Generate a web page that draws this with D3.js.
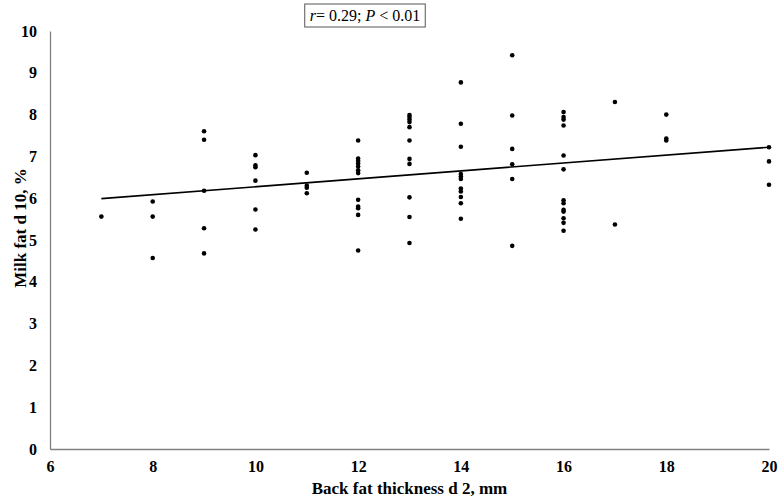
<!DOCTYPE html>
<html>
<head>
<meta charset="utf-8">
<script src="https://cdn.jsdelivr.net/npm/d3@7"></script>
<style>
  body { margin: 0; background: #fff; }
  text { font-family: "Liberation Serif", "Times New Roman", serif; }
</style>
</head>
<body>
<div id="chart"></div>
<script>
// back fat thickness (mm) per column, and milk fat values for each
var backFat = [7, 8, 9, 10, 11, 12, 13, 14, 15, 16, 17, 18, 20];
var milkFat = [
  [5.56],
  [5.92, 5.56, 4.57],
  [7.60, 7.40, 6.18, 5.28, 4.68],
  [7.03, 6.79, 6.74, 6.42, 5.73, 5.25],
  [6.61, 6.30, 6.25, 6.12],
  [7.38, 6.95, 6.89, 6.83, 6.76, 6.67, 6.60, 5.96, 5.80, 5.76, 5.60, 4.75],
  [7.99, 7.94, 7.88, 7.82, 7.70, 7.38, 6.94, 6.82, 6.02, 5.55, 4.93],
  [8.77, 7.78, 7.23, 6.58, 6.52, 6.46, 6.23, 6.16, 6.03, 5.88, 5.51],
  [9.42, 7.98, 7.18, 6.81, 6.46, 4.86],
  [8.06, 7.94, 7.88, 7.74, 7.02, 6.69, 5.95, 5.88, 5.72, 5.68, 5.52, 5.41, 5.22],
  [8.30, 5.37],
  [8.00, 7.43, 7.38],
  [7.22, 6.88, 6.32]
];
// fitted line ends as drawn
var trendX = [7, 20];
var trendY = [5.99, 7.22];
var xTicks = [6, 8, 10, 12, 14, 16, 18, 20];
var yTicks = [0, 1, 2, 3, 4, 5, 6, 7, 8, 9, 10];

var margin = {top: 31, right: 11, bottom: 52, left: 50},
    width = 780 - margin.left - margin.right,
    height = 501 - margin.top - margin.bottom;

var svg = d3.select("#chart")
  .append("svg")
    .attr("width", 780)
    .attr("height", 501)
  .append("g")
    .attr("transform", "translate(" + margin.left + "," + margin.top + ")");

var x = d3.scaleLinear().domain([6, 20]).range([0, width]);
var y = d3.scaleLinear().domain([0, 10]).range([height, 0]);

// X axis
var xAxis = svg.append("g")
  .attr("transform", "translate(0," + height + ")")
  .call(d3.axisBottom(x).tickValues(xTicks).tickSize(0).tickPadding(12));
xAxis.select(".domain").attr("stroke", "#808080").attr("stroke-width", 1.3);
xAxis.selectAll("text")
  .attr("font-size", 16).attr("font-weight", "bold").attr("fill", "#000")
  .style("font-family", "Liberation Serif");

// Y axis
var yAxis = svg.append("g")
  .call(d3.axisLeft(y).tickValues(yTicks).tickSize(0).tickPadding(13));
yAxis.select(".domain").attr("stroke", "#808080").attr("stroke-width", 1.3);
yAxis.selectAll("text")
  .attr("font-size", 16).attr("font-weight", "bold").attr("fill", "#000")
  .style("font-family", "Liberation Serif");

// points
var pts = [];
backFat.forEach(function(b, i) {
  milkFat[i].forEach(function(v) { pts.push({x: b, y: v}); });
});
svg.selectAll("circle")
  .data(pts)
  .enter()
  .append("circle")
    .attr("cx", function(d) { return x(d.x); })
    .attr("cy", function(d) { return y(d.y); })
    .attr("r", 2.3)
    .attr("fill", "#000");

// trend line
svg.append("line")
  .attr("x1", x(trendX[0])).attr("y1", y(trendY[0]))
  .attr("x2", x(trendX[1])).attr("y2", y(trendY[1]))
  .attr("stroke", "#000")
  .attr("stroke-width", 1.6);

// axis titles
svg.append("text")
  .attr("text-anchor", "middle")
  .attr("x", width / 2)
  .attr("y", height + 45)
  .attr("font-size", 17).attr("font-weight", "bold")
  .text("Back fat thickness d 2, mm");

svg.append("text")
  .attr("text-anchor", "middle")
  .attr("transform", "translate(-24," + (y(5) - 12) + ")rotate(-90)")
  .attr("font-size", 17).attr("font-weight", "bold")
  .text("Milk fat d 10, %");

// r / P box
var box = svg.append("rect")
  .attr("fill", "#fff")
  .attr("stroke", "#555")
  .attr("stroke-width", 1);

var note = svg.append("text")
  .attr("text-anchor", "middle")
  .attr("x", 315)
  .attr("y", -10)
  .attr("font-size", 16);
note.append("tspan").attr("font-style", "italic").text("r");
note.append("tspan").text("= 0.29; ");
note.append("tspan").attr("font-style", "italic").text("P");
note.append("tspan").text(" < 0.01");

var bb = note.node().getBBox();
box.attr("x", bb.x - 5).attr("y", -27)
  .attr("width", bb.width + 10).attr("height", 23);
</script>
</body>
</html>
